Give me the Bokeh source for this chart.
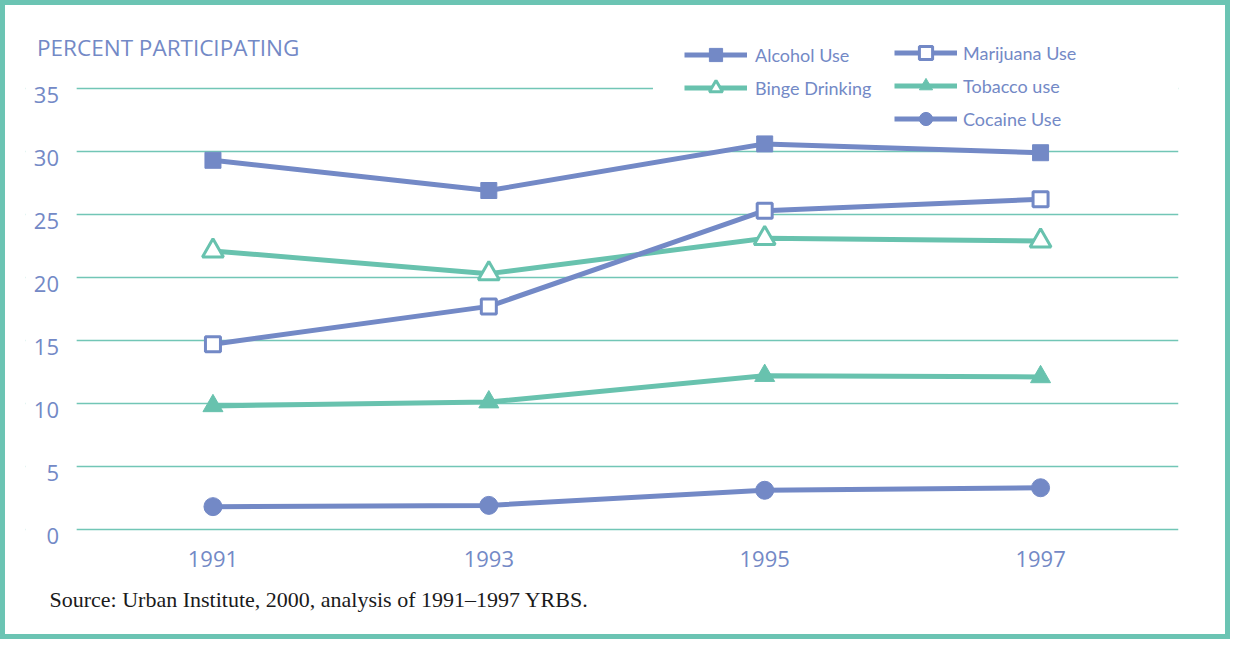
from bokeh.plotting import figure
from bokeh.models import Legend, LegendItem, FixedTicker, Title, Range1d, Label, BoxAnnotation, ColumnDataSource
from bokeh.core.properties import value
from bokeh.embed import file_html
from bokeh.resources import INLINE

# ---- data ----
years = [1991, 1993, 1995, 1997]
alcohol = [29.3, 26.9, 30.6, 29.9]
marijuana = [14.7, 17.7, 25.3, 26.2]
binge = [22.1, 20.3, 23.1, 22.9]
tobacco = [9.8, 10.1, 12.2, 12.1]
cocaine = [1.8, 1.9, 3.1, 3.3]
y_ticks = [0, 5, 10, 15, 20, 25, 30, 35]
y_tick_labels = [str(t) for t in y_ticks]
y_title = "PERCENT PARTICIPATING"
source_text = "Source: Urban Institute, 2000, analysis of 1991\u20131997 YRBS."

BLUE = "#7389c6"
TEAL = "#68c2ae"
GRID = "#72c6b6"
SANS = "Open Sans"

X_START, X_END = 1989.641, 1998.0
Y_START, Y_END = -2.0, 41.59
AXIS_X = 1990.0          # where the value labels / gridlines begin

p = figure(width=1230, height=639, x_range=Range1d(X_START, X_END), y_range=Range1d(Y_START, Y_END),
           output_backend="svg", toolbar_location=None,
           min_border_left=20, min_border_right=57, min_border_top=0, min_border_bottom=90)
p.outline_line_color = None
p.background_fill_color = "white"
p.border_fill_color = "white"
p.styles = {"border": "5px solid #6bc4b3"}

# x axis
p.xaxis.ticker = FixedTicker(ticks=years)
xa = p.xaxis[0]
xa.axis_line_color = None
xa.major_tick_line_color = None
xa.minor_tick_line_color = None
xa.major_label_text_font = SANS
xa.major_label_text_font_size = "22px"
xa.major_label_text_color = BLUE
xa.major_label_standoff = -10
p.yaxis.visible = False

p.xgrid.visible = False
p.ygrid.ticker = FixedTicker(ticks=y_ticks)
p.ygrid.grid_line_color = GRID
p.ygrid.grid_line_width = 1.5

# keep the grid lines from running under the value labels and the legend
p.add_layout(BoxAnnotation(right=AXIS_X + 0.012, fill_color="white", fill_alpha=1.0,
                           line_color=None, level="underlay"))
p.add_layout(BoxAnnotation(left=1994.19, bottom=32, fill_color="white", fill_alpha=1.0,
                           line_color=None, level="underlay"))

# value labels on the left
ysrc = ColumnDataSource(dict(x=[AXIS_X] * len(y_ticks), y=y_ticks, t=y_tick_labels))
p.text(x="x", y="y", text="t", source=ysrc, x_offset=-16, y_offset=7,
       text_align="right", text_baseline="middle", text_font=value(SANS),
       text_font_size="22px", text_color=BLUE)

# series
LW = 5
l_alc = p.line(years, alcohol, line_color=BLUE, line_width=LW)
s_alc = p.scatter(years, alcohol, marker="square", size=16, fill_color=BLUE, line_color=BLUE)

l_bin = p.line(years, binge, line_color=TEAL, line_width=LW)
s_bin = p.scatter(years, binge, marker="triangle", size=21, fill_color="white", line_color=TEAL, line_width=3)

l_mar = p.line(years, marijuana, line_color=BLUE, line_width=LW)
s_mar = p.scatter(years, marijuana, marker="square", size=15, fill_color="white", line_color=BLUE, line_width=3)

l_tob = p.line(years, tobacco, line_color=TEAL, line_width=LW)
s_tob = p.scatter(years, tobacco, marker="triangle", size=20, fill_color=TEAL, line_color=TEAL)

l_coc = p.line(years, cocaine, line_color=BLUE, line_width=LW)
s_coc = p.scatter(years, cocaine, marker="circle", size=18, fill_color=BLUE, line_color=BLUE)

common = dict(orientation="vertical", spacing=0, glyph_width=63, glyph_height=33,
              label_height=33, margin=0, border_line_color=None,
              background_fill_color="white", background_fill_alpha=1.0,
              label_text_font="Lato", label_text_font_size="18px", label_text_color=BLUE)

legA = Legend(items=[LegendItem(label="Alcohol Use", renderers=[l_alc, s_alc]),
                     LegendItem(label="Binge Drinking", renderers=[l_bin, s_bin])],
              location=(659, 450), padding=32, label_standoff=8, label_width=110, **common)
legB = Legend(items=[LegendItem(label="Marijuana Use", renderers=[l_mar, s_mar]),
                     LegendItem(label="Tobacco use", renderers=[l_tob, s_tob]),
                     LegendItem(label="Cocaine Use", renderers=[l_coc, s_coc])],
              location=(869, 419), padding=8, label_standoff=6, label_width=240, **common)
p.add_layout(legA)
p.add_layout(legB)

p.add_layout(Label(x=1989.725, y=38.26, text=y_title, text_baseline="middle",
                   text_font=SANS, text_font_size="22.5px", text_color=BLUE))

p.add_layout(Title(text=source_text, align="left", offset=24, standoff=31,
                   text_font="Liberation Serif", text_font_size="22px",
                   text_font_style="normal", text_color="#1a1a1a"), "below")

open("out.html", "w").write(file_html(p, INLINE))
